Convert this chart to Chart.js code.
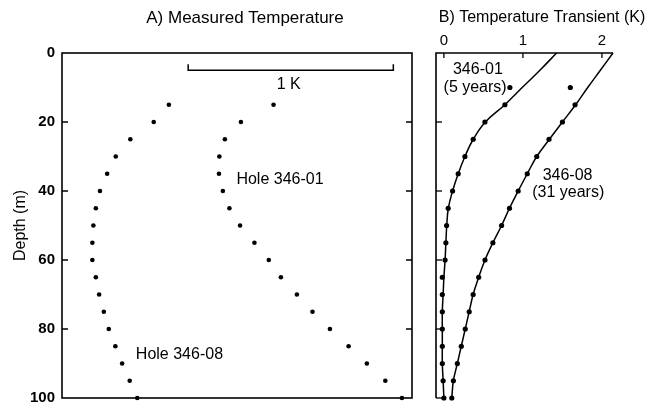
<!DOCTYPE html>
<html>
<head>
<meta charset="utf-8">
<script src="https://cdn.jsdelivr.net/npm/chart.js@4.4.1/dist/chart.umd.min.js"></script>
<style>
  html, body { margin: 0; padding: 0; background: #fff; }
  #wrap { position: relative; width: 659px; height: 403px; overflow: hidden; }
  #chartA { position: absolute; left: 0; top: 0; }
  #chartB { position: absolute; left: 420px; top: 0; }
</style>
</head>
<body>
<div id="wrap">
  <canvas id="chartA" width="420" height="403"></canvas>
  <canvas id="chartB" width="239" height="403"></canvas>
</div>
<script>
// Panel A: measured temperature profiles (relative K, depth in m)
const depthsA = [15, 20, 25, 30, 35, 40, 45, 50, 55, 60, 65, 70, 75, 80, 85, 90, 95, 100];
const hole08 = [0.516, 0.442, 0.328, 0.257, 0.215, 0.180, 0.160, 0.148, 0.143, 0.143, 0.160, 0.176, 0.199, 0.223, 0.255, 0.288, 0.325, 0.362];
const hole01 = [1.026, 0.867, 0.789, 0.762, 0.760, 0.779, 0.811, 0.863, 0.933, 1.003, 1.062, 1.140, 1.216, 1.301, 1.392, 1.481, 1.571, 1.652];

// Panel B: temperature transient, observed dots and model curves
const depthsB = [10, 15, 20, 25, 30, 35, 40, 45, 50, 55, 60, 65, 70, 75, 80, 85, 90, 95, 100];
const obs01 = [0.835, 0.772, 0.519, 0.371, 0.266, 0.181, 0.110, 0.054, 0.034, 0.025, 0.015, -0.02, -0.02, -0.02, -0.02, -0.02, -0.02, -0.01, 0.0];
const obs08 = [1.60, 1.66, 1.50, 1.33, 1.175, 1.055, 0.94, 0.83, 0.73, 0.62, 0.52, 0.44, 0.37, 0.32, 0.27, 0.22, 0.17, 0.12, 0.10];
const lineDepths = [0, 5, 10, 15, 20, 25, 30, 35, 40, 45, 50, 55, 60, 65, 70, 75, 80, 85, 90, 95, 100];
const model01 = [1.426, 1.215, 0.991, 0.772, 0.525, 0.371, 0.266, 0.181, 0.110, 0.056, 0.036, 0.025, 0.015, 0.0, -0.01, -0.02, -0.02, -0.02, -0.02, -0.01, 0.0];
const model08 = [2.14, 1.98, 1.82, 1.667, 1.50, 1.335, 1.175, 1.055, 0.94, 0.83, 0.73, 0.62, 0.52, 0.44, 0.37, 0.32, 0.27, 0.22, 0.17, 0.12, 0.10];

const depthTicks = [20, 40, 60, 80];
const transientTicks = [0, 1, 2];
const FONT = '"Liberation Sans", Arial, Helvetica, sans-serif';

const toPts = (xs, ys) => xs.map((x, i) => ({ x: x, y: ys[i] }));

function text(ctx, str, x, y, size, align) {
    ctx.font = size + 'px ' + FONT;
    ctx.fillStyle = '#000';
    ctx.textAlign = align || 'center';
    ctx.textBaseline = 'middle';
    ctx.fillText(str, x, y);
}

// frame, inward ticks and labels for panel A
const panelA = {
    id: 'panelA',
    afterDraw(chart) {
        const { ctx, chartArea: a, scales: { x, y } } = chart;
        ctx.save();
        ctx.strokeStyle = '#000';
        ctx.lineWidth = 1.6;
        ctx.strokeRect(a.left, a.top, a.right - a.left, a.bottom - a.top);
        ctx.lineWidth = 1.3;
        depthTicks.forEach(d => {
            const py = y.getPixelForValue(d);
            ctx.beginPath();
            ctx.moveTo(a.left, py); ctx.lineTo(a.left + 6, py);
            ctx.moveTo(a.right, py); ctx.lineTo(a.right - 6, py);
            ctx.stroke();
        });
        // 1 K scale bar
        const x0 = x.getPixelForValue(0.61), x1 = x.getPixelForValue(1.61), yb = y.getPixelForValue(5);
        ctx.lineWidth = 1.5;
        ctx.beginPath();
        ctx.moveTo(x0, yb - 6); ctx.lineTo(x0, yb); ctx.lineTo(x1, yb); ctx.lineTo(x1, yb - 6);
        ctx.stroke();
        text(ctx, '1 K', x.getPixelForValue(1.1), y.getPixelForValue(9.3), 16);
        text(ctx, 'Hole 346-01', x.getPixelForValue(0.845), y.getPixelForValue(36.7), 16, 'left');
        text(ctx, 'Hole 346-08', x.getPixelForValue(0.355), y.getPixelForValue(87.4), 16, 'left');
        text(ctx, 'A) Measured Temperature', (a.left + a.right) / 2 + 8, 18, 17);
        ctx.restore();
    }
};

// left / top axes with inward ticks for panel B
const panelB = {
    id: 'panelB',
    afterDraw(chart) {
        const { ctx, chartArea: a, scales: { x, y } } = chart;
        ctx.save();
        ctx.strokeStyle = '#000';
        ctx.lineWidth = 1.6;
        ctx.beginPath();
        ctx.moveTo(a.right, a.top); ctx.lineTo(a.left, a.top); ctx.lineTo(a.left, a.bottom);
        ctx.stroke();
        ctx.lineWidth = 1.3;
        transientTicks.forEach(v => {
            const px = x.getPixelForValue(v);
            ctx.beginPath(); ctx.moveTo(px, a.top); ctx.lineTo(px, a.top + 5); ctx.stroke();
        });
        depthTicks.concat([100]).forEach(d => {
            const py = y.getPixelForValue(d);
            ctx.beginPath(); ctx.moveTo(a.left, py); ctx.lineTo(a.left + 6, py); ctx.stroke();
        });
        text(ctx, '346-01', x.getPixelForValue(0.43), y.getPixelForValue(4.8), 16);
        text(ctx, '(5 years)', x.getPixelForValue(0.395), y.getPixelForValue(10.1), 16);
        text(ctx, '346-08', x.getPixelForValue(1.565), y.getPixelForValue(35.5), 16);
        text(ctx, '(31 years)', x.getPixelForValue(1.573), y.getPixelForValue(40.4), 16);
        text(ctx, 'B) Temperature Transient (K)', 122, 18, 16);
        ctx.restore();
    }
};

const dots = (data, r) => ({
    data: data, showLine: false, pointRadius: r, pointHoverRadius: r,
    pointBackgroundColor: '#000', pointBorderWidth: 0, clip: false
});

new Chart(document.getElementById('chartA'), {
    type: 'scatter',
    data: {
        datasets: [dots(toPts(hole08, depthsA), 2.3), dots(toPts(hole01, depthsA), 2.3)]
    },
    options: {
        responsive: false, animation: false,
        layout: { padding: { top: 53, right: 8, bottom: 5, left: 0 } },
        plugins: { legend: { display: false }, tooltip: { enabled: false } },
        scales: {
            x: { type: 'linear', display: false, min: -0.005, max: 1.701 },
            y: {
                type: 'linear', reverse: true, min: 0, max: 100,
                grid: { drawOnChartArea: false, drawTicks: false },
                border: { display: false },
                ticks: { stepSize: 20, padding: 7, color: '#000', font: { family: FONT, size: 15, weight: 'bold' } },
                title: { display: true, text: 'Depth (m)', color: '#000', padding: { top: 11, bottom: 0 }, font: { family: FONT, size: 16 } },
                afterFit(s) { s.width = 62; s.paddingTop = 0; s.paddingBottom = 0; }
            }
        }
    },
    plugins: [panelA]
});

const curve = data => ({
    data: data, showLine: true, pointRadius: 0, borderColor: '#000',
    borderWidth: 1.5, tension: 0.4, fill: false, clip: false
});

new Chart(document.getElementById('chartB'), {
    type: 'scatter',
    data: {
        datasets: [
            curve(toPts(model01, lineDepths)),
            curve(toPts(model08, lineDepths)),
            dots(toPts(obs01, depthsB), 2.6),
            dots(toPts(obs08, depthsB), 2.6)
        ]
    },
    options: {
        responsive: false, animation: false,
        layout: { padding: { top: 33, right: 46, bottom: 5, left: 16 } },
        plugins: { legend: { display: false }, tooltip: { enabled: false } },
        scales: {
            x: {
                type: 'linear', position: 'top', min: -0.1, max: 2.14,
                grid: { drawOnChartArea: false, drawTicks: false },
                border: { display: false },
                ticks: { autoSkip: false, padding: 3, color: '#000', font: { family: FONT, size: 15 } },
                afterBuildTicks(s) { s.ticks = transientTicks.map(v => ({ value: v })); },
                afterFit(s) { s.height = 20; s.paddingLeft = 0; s.paddingRight = 0; }
            },
            y: { type: 'linear', display: false, reverse: true, min: 0, max: 100 }
        }
    },
    plugins: [panelB]
});
</script>
</body>
</html>
